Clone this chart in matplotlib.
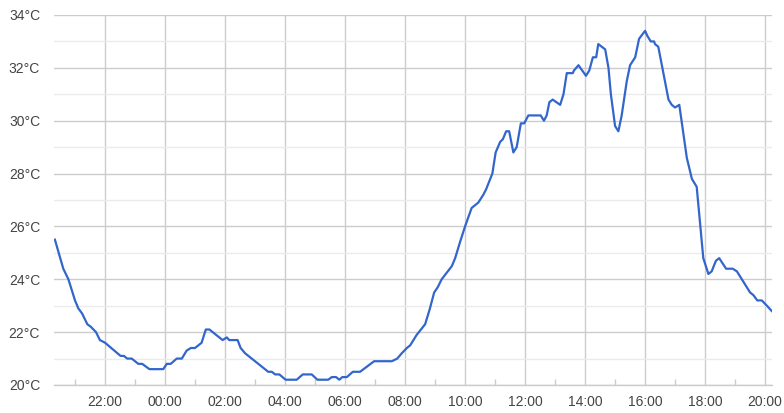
import numpy as np
import matplotlib
matplotlib.use("Agg")
import matplotlib.pyplot as plt
from matplotlib.ticker import MultipleLocator, FuncFormatter

# ── data: hours since midnight of day 1 (next day = 24+), temperature in °C ──
hours = [
    20.33, 20.61, 20.78, 21.00, 21.11, 21.24, 21.41, 21.53, 21.70, 21.83,
    22.00, 22.52, 22.63, 22.74, 22.89, 23.11, 23.24, 23.48, 23.94, 24.06,
    24.19, 24.39, 24.56, 24.72, 24.86, 25.00, 25.22, 25.36, 25.48, 25.92,
    26.06, 26.14, 26.42, 26.52, 26.67, 27.44, 27.56, 27.67, 27.81, 28.02,
    28.39, 28.59, 28.89, 29.08, 29.44, 29.56, 29.70, 29.81, 29.91, 30.06,
    30.26, 30.50, 30.97, 31.56, 31.74, 31.89, 32.06, 32.17, 32.39, 32.67,
    32.83, 32.97, 33.09, 33.22, 33.56, 33.67, 33.83, 34.00, 34.22, 34.44,
    34.61, 34.70, 34.91, 35.02, 35.17, 35.26, 35.37, 35.47, 35.61, 35.72,
    35.86, 35.97, 36.11, 36.52, 36.63, 36.72, 36.81, 36.92, 37.17, 37.28,
    37.39, 37.59, 37.63, 37.78, 38.03, 38.14, 38.26, 38.37, 38.44, 38.67,
    38.78, 38.86, 39.00, 39.11, 39.22, 39.39, 39.50, 39.67, 39.80, 40.00,
    40.08, 40.19, 40.30, 40.33, 40.44, 40.78, 40.89, 41.00, 41.14, 41.39,
    41.56, 41.72, 41.94, 42.11, 42.22, 42.36, 42.47, 42.70, 42.92, 43.06,
    43.50, 43.61, 43.74, 43.89, 44.06, 44.22,
]
temps = [
    25.5, 24.4, 24.0, 23.2, 22.9, 22.7, 22.3, 22.2, 22.0, 21.7,
    21.6, 21.1, 21.1, 21.0, 21.0, 20.8, 20.8, 20.6, 20.6, 20.8,
    20.8, 21.0, 21.0, 21.3, 21.4, 21.4, 21.6, 22.1, 22.1, 21.7,
    21.8, 21.7, 21.7, 21.4, 21.2, 20.5, 20.5, 20.4, 20.4, 20.2,
    20.2, 20.4, 20.4, 20.2, 20.2, 20.3, 20.3, 20.2, 20.3, 20.3,
    20.5, 20.5, 20.9, 20.9, 21.0, 21.2, 21.4, 21.5, 21.9, 22.3,
    22.9, 23.5, 23.7, 24.0, 24.5, 24.8, 25.4, 26.0, 26.7, 26.9,
    27.2, 27.4, 28.0, 28.8, 29.2, 29.3, 29.6, 29.6, 28.8, 29.0,
    29.9, 29.9, 30.2, 30.2, 30.0, 30.2, 30.7, 30.8, 30.6, 31.0,
    31.8, 31.8, 31.9, 32.1, 31.7, 31.9, 32.4, 32.4, 32.9, 32.7,
    32.0, 31.0, 29.8, 29.6, 30.2, 31.5, 32.1, 32.4, 33.1, 33.4,
    33.2, 33.0, 33.0, 32.9, 32.8, 30.8, 30.6, 30.5, 30.6, 28.6,
    27.8, 27.5, 24.8, 24.2, 24.3, 24.7, 24.8, 24.4, 24.4, 24.3,
    23.5, 23.4, 23.2, 23.2, 23.0, 22.8,
]

fig = plt.figure(figsize=(7.84, 4.13), dpi=100)
ax = fig.add_axes([54 / 784, 28 / 413, 718 / 784, 370 / 413])

ax.plot(hours, temps, color="#3366cc", linewidth=1.6, zorder=3)

ax.set_xlim(20.3, 44.23)
ax.set_ylim(20, 34)

ax.yaxis.set_major_locator(MultipleLocator(2))
ax.yaxis.set_minor_locator(MultipleLocator(1))
ax.xaxis.set_major_locator(MultipleLocator(2))
ax.xaxis.set_minor_locator(MultipleLocator(1))
ax.yaxis.set_major_formatter(FuncFormatter(lambda v, p: f"{v:.0f}°C"))
ax.xaxis.set_major_formatter(FuncFormatter(lambda v, p: f"{int(v) % 24:02d}:00"))

ax.grid(which="major", color="#cccccc", linewidth=1.0)
ax.grid(which="minor", axis="y", color="#ebebeb", linewidth=1.0)
ax.set_axisbelow(True)

for s in ["top", "right", "left"]:
    ax.spines[s].set_visible(False)
ax.spines["bottom"].set_color("#cccccc")
ax.spines["bottom"].set_linewidth(1.0)

ax.tick_params(axis="y", which="both", length=0, pad=10, labelsize=10, labelcolor="#444444")
ax.tick_params(axis="x", which="major", length=0, pad=7, labelsize=10, labelcolor="#444444")
ax.tick_params(axis="x", which="minor", direction="in", length=4, color="#cccccc", width=1.0)

for lbl in ax.get_xticklabels() + ax.get_yticklabels():
    lbl.set_family("Liberation Sans")

plt.savefig("out.png", dpi=100)
